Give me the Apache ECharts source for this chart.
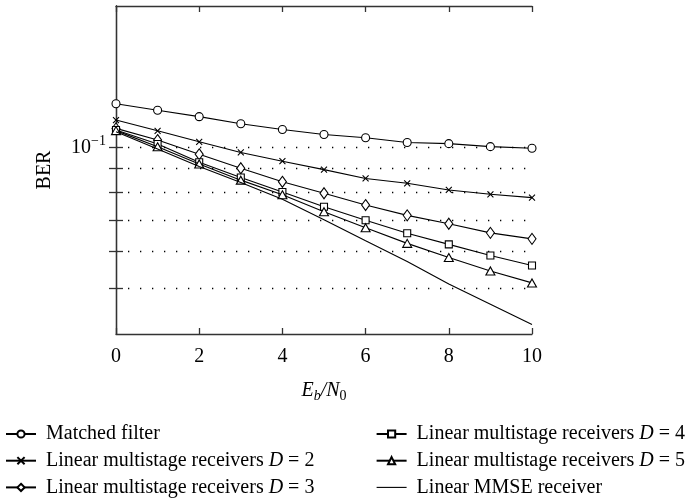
<!DOCTYPE html>
<html>
<head>
<meta charset="utf-8">
<script src="https://cdn.jsdelivr.net/npm/echarts@6/dist/echarts.min.js"></script>
<style>
  html, body { margin: 0; padding: 0; background: #fff; }
  #chart { width: 686px; height: 498px; }
</style>
</head>
<body>
<div id="chart"></div>
<script>
// Eb/N0 sample points
const ebn0 = [0, 1, 2, 3, 4, 5, 6, 7, 8, 9, 10];

// Bit error rates per receiver
const berMatchedFilter = [0.1238, 0.1199, 0.1162, 0.1122, 0.1091, 0.1065, 0.1048, 0.1024, 0.1018, 0.1003, 0.0995];
const berD2 = [0.1143, 0.1084, 0.1027, 0.0975, 0.0934, 0.0896, 0.0858, 0.0838, 0.0811, 0.0794, 0.0781];
const berD3 = [0.1097, 0.1036, 0.0966, 0.0902, 0.0844, 0.0798, 0.0753, 0.0716, 0.0687, 0.0657, 0.0638];
const berD4 = [0.1088, 0.1016, 0.0929, 0.0862, 0.0803, 0.0747, 0.0699, 0.0656, 0.0621, 0.0588, 0.0560];
const berD5 = [0.1085, 0.1002, 0.0921, 0.0851, 0.0792, 0.0729, 0.0674, 0.0624, 0.0582, 0.0545, 0.0514];
const berMMSE = [0.1079, 0.0991, 0.0910, 0.0841, 0.0775, 0.0701, 0.0632, 0.0571, 0.0511, 0.0463, 0.0419];

// Series names
const seriesNames = [
  'Matched filter',
  'Linear multistage receivers D = 2',
  'Linear multistage receivers D = 3',
  'Linear multistage receivers D = 4',
  'Linear multistage receivers D = 5',
  'Linear MMSE receiver'
];

// Axis ticks
const yGridValues = [0.05, 0.06, 0.07, 0.08, 0.09, 0.1];
const yLabelValues = [0.1];

const FONT = '"Liberation Serif", "DejaVu Serif", serif';
const INK = '#000';
const FRAME = '#333';

const crossPath = 'path://M0,0L10,10M0,10L10,0';
const plainLineIcon = 'path://M0,0L30,0L30,1.1L0,1.1Z';

const markerSpecs = [
  { symbol: 'circle', size: 8 },
  { symbol: crossPath, size: 6 },
  { symbol: 'diamond', size: [8, 11] },
  { symbol: 'rect', size: 7 },
  { symbol: 'triangle', size: [9, 8] },
  { symbol: 'none', size: 0 }
];

const berSets = [berMatchedFilter, berD2, berD3, berD4, berD5, berMMSE];

const series = berSets.map((vals, k) => ({
  name: seriesNames[k],
  type: 'line',
  data: ebn0.map((x, i) => [x, vals[i]]),
  symbol: markerSpecs[k].symbol,
  symbolSize: markerSpecs[k].size,
  showSymbol: markerSpecs[k].symbol !== 'none',
  lineStyle: { color: INK, width: 1.1 },
  itemStyle: { color: '#fff', borderColor: INK, borderWidth: 1.1 },
  emphasis: { disabled: true },
  z: 3 + k
}));

function legendText(name) {
  const m = name.match(/^(.*)D = (\d)$/);
  if (m) return '{n|' + m[1] + '}{i|D}{n| = ' + m[2] + '}';
  return '{n|' + name + '}';
}

// the MMSE entry has no marker, so its key is a bare stroke
function legendEntry(name) {
  if (name === 'Linear MMSE receiver') {
    return { name: name, icon: plainLineIcon, itemStyle: { color: INK, borderWidth: 0 } };
  }
  return { name: name };
}

const legendRich = {
  n: { fontFamily: FONT, fontSize: 20, lineHeight: 20, color: INK },
  i: { fontFamily: FONT, fontSize: 20, lineHeight: 20, fontStyle: 'italic', color: INK }
};

const legendBase = {
  orient: 'vertical',
  padding: 0,
  itemWidth: 30,
  itemHeight: 9,
  itemGap: 6.7,
  selectedMode: false,
  formatter: legendText,
  textStyle: { rich: legendRich, padding: [0, 0, 0, 5] }
};

const tickStyle = { color: FRAME, width: 1.3 };
const frameLine = { show: true, lineStyle: { color: FRAME, width: 1.3 } };

const option = {
  animation: false,
  backgroundColor: '#fff',
  grid: { left: 116, right: 154, top: 6, bottom: 164, containLabel: false },
  legend: [
    Object.assign({}, legendBase, { data: seriesNames.slice(0, 3).map(legendEntry), left: 5, top: 424 }),
    Object.assign({}, legendBase, { data: seriesNames.slice(3).map(legendEntry), right: 1, top: 424 })
  ],
  xAxis: [
    {
      type: 'value', position: 'bottom', min: 0, max: 10, interval: 2,
      axisLine: frameLine,
      axisTick: { show: true, inside: true, length: 6, lineStyle: tickStyle },
      axisLabel: { margin: 13, color: INK, fontFamily: FONT, fontSize: 20 },
      splitLine: { show: false },
      name: '{e|E}{sb|b}{e|/N}{s0|0}',
      nameLocation: 'middle',
      nameGap: 45,
      nameTextStyle: {
        rich: {
          e: { fontFamily: FONT, fontSize: 20, fontStyle: 'italic', color: INK },
          sb: { fontFamily: FONT, fontSize: 14, fontStyle: 'italic', color: INK, padding: [10, 0, 0, 0] },
          s0: { fontFamily: FONT, fontSize: 14, color: INK, padding: [10, 0, 0, 0] }
        }
      }
    },
    {
      type: 'value', position: 'top', min: 0, max: 10, interval: 2,
      axisLine: frameLine,
      axisTick: { show: true, inside: true, length: 6, lineStyle: tickStyle },
      axisLabel: { show: false },
      splitLine: { show: false }
    }
  ],
  yAxis: [
    {
      type: 'log', logBase: 10, position: 'left', min: 0.04, max: 0.2,
      axisLine: frameLine,
      axisTick: { show: true, inside: true, length: 7, lineStyle: tickStyle, customValues: yGridValues },
      minorTick: { show: false },
      axisLabel: {
        customValues: yLabelValues,
        margin: 10,
        formatter: () => '{b|10}{s|\u22121}',
        rich: {
          b: { fontFamily: FONT, fontSize: 20, color: INK },
          s: { fontFamily: FONT, fontSize: 14, color: INK, padding: [0, 0, 12, 0] }
        }
      },
      splitLine: { show: true, lineStyle: { color: INK, width: 1.3, type: [1.3, 10.7] } },
      name: 'BER',
      nameLocation: 'middle',
      nameGap: 61,
      nameRotate: 90,
      nameTextStyle: { fontFamily: FONT, fontSize: 20, color: INK }
    },
    {
      type: 'log', logBase: 10, position: 'right', min: 0.04, max: 0.2,
      axisLine: frameLine,
      axisTick: { show: true, inside: true, length: 7, lineStyle: tickStyle, customValues: yGridValues },
      minorTick: { show: false },
      axisLabel: { show: false },
      splitLine: { show: false }
    }
  ],
  series: series
};

const chart = echarts.init(document.getElementById('chart'), null, { renderer: 'canvas' });
chart.setOption(option);
</script>
</body>
</html>
